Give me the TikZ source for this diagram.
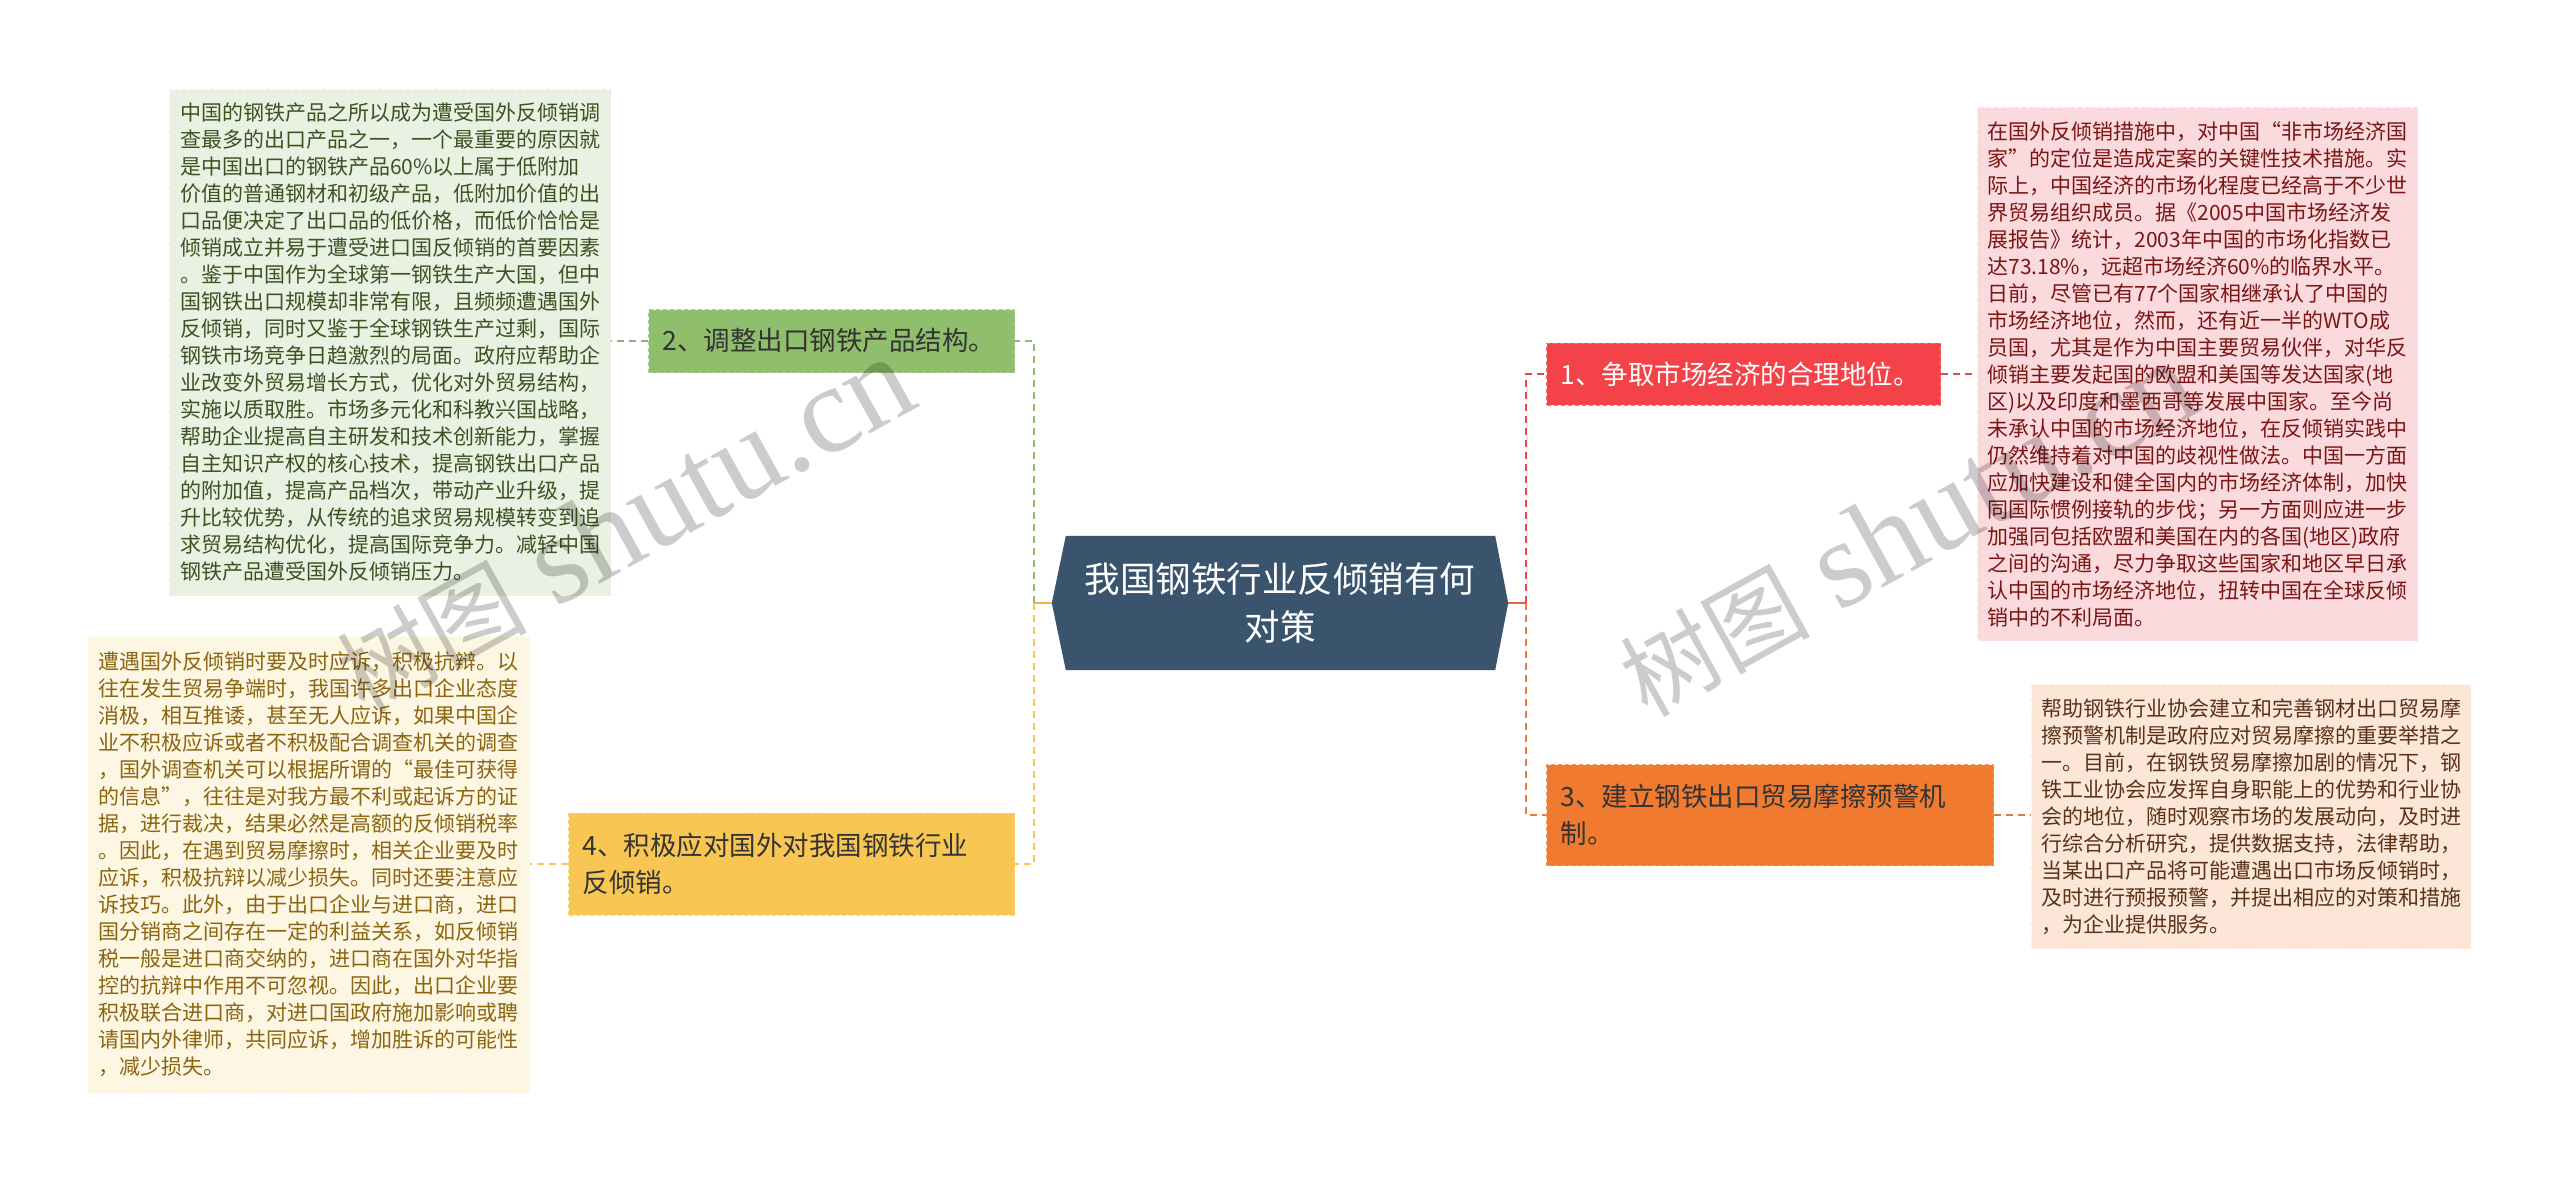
\documentclass[tikz,border=0pt]{standalone}
\usepackage{fontspec}
\setmainfont{Noto Sans CJK SC}
\newfontfamily\wmlatin{Liberation Serif}
\usetikzlibrary{calc}
\pgfdeclarelayer{bgzero}
\pgfdeclarelayer{bgone}
\pgfsetlayers{bgzero,bgone,main}
\definecolor{rootfill}{RGB}{58,84,110}
\definecolor{cred}{RGB}{243,66,72}
\definecolor{cgreen}{RGB}{143,190,108}
\definecolor{corange}{RGB}{240,122,48}
\definecolor{cyellow}{RGB}{248,198,83}
\definecolor{lgfill}{RGB}{233,241,226}
\definecolor{lgtext}{RGB}{59,83,35}
\definecolor{lyfill}{RGB}{253,246,227}
\definecolor{lytext}{RGB}{139,101,16}
\definecolor{lrfill}{RGB}{251,218,221}
\definecolor{lrtext}{RGB}{122,21,21}
\definecolor{lofill}{RGB}{252,230,216}
\definecolor{lotext}{RGB}{90,50,24}
\definecolor{darktext}{RGB}{51,51,51}
\definecolor{stubleft}{RGB}{242,182,60}
\definecolor{stubright}{RGB}{232,100,60}
\begin{document}
\begin{tikzpicture}[x=1pt,y=-1pt,
  rootbox/.style={minimum width=456pt, minimum height=134pt, inner sep=0pt, align=center, text=white, font=\fontsize{35.5}{48}\selectfont},
  branch/.style={anchor=west, inner xsep=14pt, inner ysep=0pt, align=left, font=\fontsize{26.5}{37}\selectfont, line width=1pt, dash pattern=on 4pt off 3pt},
  leaf/.style={anchor=north west, inner ysep=0pt, align=left, text width=420pt, font=\fontsize{21}{27}\selectfont, line width=1pt, dash pattern=on 4pt off 3pt},
  conn/.style={line width=2pt, dash pattern=on 7pt off 5pt},
  stub/.style={line width=2.5pt},
  wm/.style={inner sep=0pt, text=black, opacity=0.2}
]
\useasboundingbox (0,0) rectangle (2560,1181);
\begin{pgfonlayer}{bgzero}
\fill[white] (0,0) rectangle (2560,1181);
\end{pgfonlayer}

% root
\node[rootbox] (root) at (1280,603) {我国钢铁行业反倾销有何\\对策};
\begin{pgfonlayer}{bgone}
\fill[rootfill] (root.west) -- ([xshift=14pt]root.north west) -- ([xshift=-13pt]root.north east) -- (root.east) -- ([xshift=-13pt]root.south east) -- ([xshift=14pt]root.south west) -- cycle;
\end{pgfonlayer}

% branches
\node[branch, fill=cred, draw=cred!75!white, text=white, minimum height=62pt, text width=366pt] (n1) at (1546,374) {1、争取市场经济的合理地位。};
\node[branch, fill=cgreen, draw=cgreen!75!white, text=darktext, minimum height=63pt, text width=338pt] (n2) at (648,341) {2、调整出口钢铁产品结构。};
\node[branch, fill=corange, draw=corange!75!white, text=darktext, minimum height=101pt, text width=419pt] (n3) at (1546,815) {3、建立钢铁出口贸易摩擦预警机\\制。};
\node[branch, fill=cyellow, draw=cyellow!75!white, text=darktext, minimum height=102pt, text width=418pt] (n4) at (568,864) {4、积极应对国外对我国钢铁行业\\反倾销。};

% leaves
\node[leaf, fill=lgfill, draw=lgfill!90!black!40!white, text=lgtext, inner xsep=10.5pt, minimum height=506pt] (lg) at (169,89) {中国的钢铁产品之所以成为遭受国外反倾销调\\查最多的出口产品之一，一个最重要的原因就\\是中国出口的钢铁产品60\%以上属于低附加\\价值的普通钢材和初级产品，低附加价值的出\\口品便决定了出口品的低价格，而低价恰恰是\\倾销成立并易于遭受进口国反倾销的首要因素\\。鉴于中国作为全球第一钢铁生产大国，但中\\国钢铁出口规模却非常有限，且频频遭遇国外\\反倾销，同时又鉴于全球钢铁生产过剩，国际\\钢铁市场竞争日趋激烈的局面。政府应帮助企\\业改变外贸易增长方式，优化对外贸易结构，\\实施以质取胜。市场多元化和科教兴国战略，\\帮助企业提高自主研发和技术创新能力，掌握\\自主知识产权的核心技术，提高钢铁出口产品\\的附加值，提高产品档次，带动产业升级，提\\升比较优势，从传统的追求贸易规模转变到追\\求贸易结构优化，提高国际竞争力。减轻中国\\钢铁产品遭受国外反倾销压力。};
\node[leaf, fill=lyfill, draw=lyfill!70!white, text=lytext, inner xsep=11pt, minimum height=456pt] (ly) at (87,636) {遭遇国外反倾销时要及时应诉，积极抗辩。以\\往在发生贸易争端时，我国许多出口企业态度\\消极，相互推诿，甚至无人应诉，如果中国企\\业不积极应诉或者不积极配合调查机关的调查\\，国外调查机关可以根据所谓的“最佳可获得\\的信息”，往往是对我方最不利或起诉方的证\\据，进行裁决，结果必然是高额的反倾销税率\\。因此，在遇到贸易摩擦时，相关企业要及时\\应诉，积极抗辩以减少损失。同时还要注意应\\诉技巧。此外，由于出口企业与进口商，进口\\国分销商之间存在一定的利益关系，如反倾销\\税一般是进口商交纳的，进口商在国外对华指\\控的抗辩中作用不可忽视。因此，出口企业要\\积极联合进口商，对进口国政府施加影响或聘\\请国内外律师，共同应诉，增加胜诉的可能性\\，减少损失。};
\node[leaf, fill=lrfill, draw=lrfill!70!white, text=lrtext, inner xsep=10pt, minimum height=533pt] (lr) at (1977,107) {在国外反倾销措施中，对中国“非市场经济国\\家”的定位是造成定案的关键性技术措施。实\\际上，中国经济的市场化程度已经高于不少世\\界贸易组织成员。据《2005中国市场经济发\\展报告》统计，2003年中国的市场化指数已\\达73.18\%，远超市场经济60\%的临界水平。\\日前，尽管已有77个国家相继承认了中国的\\市场经济地位，然而，还有近一半的WTO成\\员国，尤其是作为中国主要贸易伙伴，对华反\\倾销主要发起国的欧盟和美国等发达国家(地\\区)以及印度和墨西哥等发展中国家。至今尚\\未承认中国的市场经济地位，在反倾销实践中\\仍然维持着对中国的歧视性做法。中国一方面\\应加快建设和健全国内的市场经济体制，加快\\同国际惯例接轨的步伐；另一方面则应进一步\\加强同包括欧盟和美国在内的各国(地区)政府\\之间的沟通，尽力争取这些国家和地区早日承\\认中国的市场经济地位，扭转中国在全球反倾\\销中的不利局面。};
\node[leaf, fill=lofill, draw=lofill!70!white, text=lotext, inner xsep=9.5pt, minimum height=264pt] (lo) at (2031,684) {帮助钢铁行业协会建立和完善钢材出口贸易摩\\擦预警机制是政府应对贸易摩擦的重要举措之\\一。目前，在钢铁贸易摩擦加剧的情况下，钢\\铁工业协会应发挥自身职能上的优势和行业协\\会的地位，随时观察市场的发展动向，及时进\\行综合分析研究，提供数据支持，法律帮助，\\当某出口产品将可能遭遇出口市场反倾销时，\\及时进行预报预警，并提出相应的对策和措施\\，为企业提供服务。};

% trunk connectors
\coordinate (lt) at (1034,603);
\coordinate (rt) at (1526,603);
\draw[stub, stubleft] (root.west) -- (lt);
\draw[stub, stubright] (root.east) -- (rt);
\draw[conn, cgreen] (lt) |- (n2.east);
\draw[conn, cyellow] (lt) |- (n4.east);
\draw[conn, cred] (rt) |- (n1.west);
\draw[conn, corange] (rt) |- (n3.west);

% leaf connectors
\draw[conn, cgreen!80!gray] (n2.west) -- (n2.west -| lg.east);
\draw[conn, cyellow] (n4.west) -- (n4.west -| ly.east);
\draw[conn, cred!80!gray] (n1.east) -- (n1.east -| lr.west);
\draw[conn, corange!80!gray] (n3.east) -- (n3.east -| lo.west);

% watermarks
\node[wm, rotate=29, anchor=west] (wm1) at (345,680) {{\fontsize{95}{95}\selectfont 树图}\hspace{28pt}{\wmlatin\fontsize{125}{125}\selectfont shutu.cn}};
\node[wm, rotate=29, anchor=west] (wm2) at (1628,684) {{\fontsize{95}{95}\selectfont 树图}\hspace{28pt}{\wmlatin\fontsize{125}{125}\selectfont shutu.cn}};
\end{tikzpicture}
\end{document}
